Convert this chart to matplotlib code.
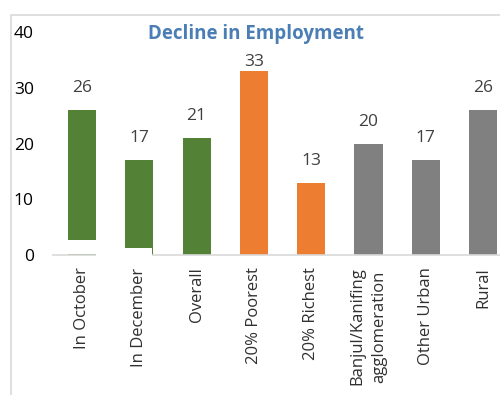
import matplotlib.pyplot as plt
from matplotlib.patches import Rectangle

plt.rcParams['font.family'] = ['Open Sans', 'DejaVu Sans']

categories = ["In October", "In December", "Overall", "20% Poorest", "20% Richest",
              "Banjul/Kanifing\nagglomeration", "Other Urban", "Rural"]
values = [26, 17, 21, 33, 13, 20, 17, 26]
groups = ["time", "time", "time", "wealth", "wealth", "area", "area", "area"]
group_colors = {"time": "#538135", "wealth": "#ed7d31", "area": "#808080"}
yticks = [0, 10, 20, 30, 40]

fig = plt.figure(figsize=(5, 3.95), dpi=100)
ax = fig.add_axes([0.1066, 0.3544, 0.917, 0.5646])

x = range(len(categories))
colors = [group_colors[g] for g in groups]
ax.bar(x, values, width=0.49, color=colors, zorder=2)

# labels sit above the bars; the tallest one is pushed down under the title
for xi, v in zip(x, values):
    off = 0.5 if v > 30 else 10
    ax.annotate(str(v), (xi, v), xytext=(0, off), textcoords="offset points",
                ha="center", va="bottom", fontsize=12.5, color="#404040")

ax.set_xlim(-0.5, len(categories) - 0.5)
ax.set_ylim(0, 40)
ax.set_yticks(yticks)
ax.set_xticks(list(x))
ax.set_xticklabels(categories, rotation=90, fontsize=12, color="#303030",
                   ha="center", va="top", multialignment="center",
                   linespacing=1.45)
ax.tick_params(axis="y", length=0, pad=14, labelsize=12.5, labelcolor="#000000")
ax.tick_params(axis="x", length=0, pad=9)
for s in ["top", "right", "left"]:
    ax.spines[s].set_visible(False)
ax.spines["bottom"].set_color("#d9d9d9")
ax.spines["bottom"].set_linewidth(1.2)

# white patches that blank out the feet of the first two bars
ax.add_patch(Rectangle((-0.3, 0.2), 0.544, 2.5, facecolor="white",
                       edgecolor="none", zorder=3))
ax.add_patch(Rectangle((0.244, -0.4), 0.985, 1.7, facecolor="white",
                       edgecolor="none", zorder=3, clip_on=False))

ax.text(0.443, 39.7, "Decline in Employment", transform=ax.get_yaxis_transform(),
        ha="center", va="center", fontsize=13.5, fontweight="bold", color="#4a7eb5")

# outer frame
fig.add_artist(Rectangle((11 / 500, -0.1), 1.2, 1 - 15 / 395 + 0.1,
                         transform=fig.transFigure, facecolor="none",
                         edgecolor="#d9d9d9", linewidth=1.2))

fig.savefig("out.png", dpi=100)
